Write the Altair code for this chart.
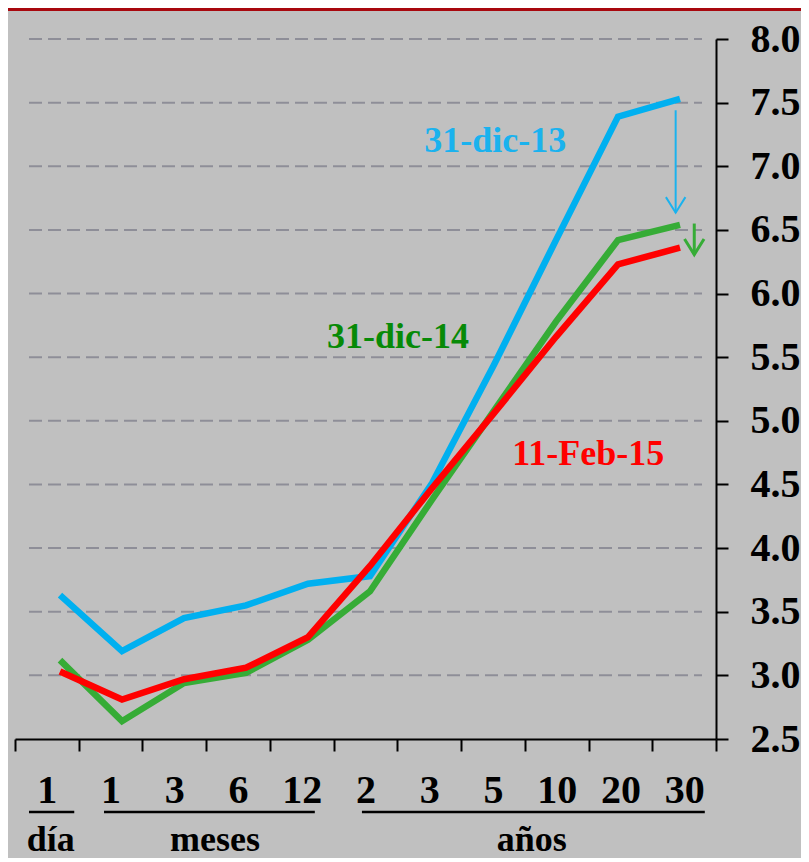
import altair as alt
import pandas as pd

# ---------------- data ----------------
categories = ["1d", "1m", "3m", "6m", "12m", "2y", "3y", "5y", "10y", "20y", "30y"]
tick_labels = ["1", "1", "3", "6", "12", "2", "3", "5", "10", "20", "30"]
series_names = ["31-dic-13", "31-dic-14", "11-Feb-15"]
dic13 = [3.63, 3.19, 3.45, 3.55, 3.72, 3.78, 4.51, 5.44, 6.42, 7.39, 7.53]
dic14 = [3.12, 2.64, 2.94, 3.02, 3.28, 3.66, 4.38, 5.08, 5.78, 6.42, 6.54]
feb15 = [3.03, 2.81, 2.97, 3.06, 3.30, 3.86, 4.47, 5.06, 5.66, 6.23, 6.36]
line_colors = ["#00B0F0", "#36AC36", "#FF0000"]

label_text = ["31-dic-13", "31-dic-14", "11-Feb-15"]
label_colors = ["#1AB2EE", "#078A07", "#FF0000"]
label_x = [7.02, 5.45, 8.52]
label_y = [7.115, 5.575, 4.656]

y_ticks = [2.5, 3.0, 3.5, 4.0, 4.5, 5.0, 5.5, 6.0, 6.5, 7.0, 7.5, 8.0]
grid_values = [3.0, 3.5, 4.0, 4.5, 5.0, 5.5, 6.0, 6.5, 7.0, 7.5, 8.0]

groups = ["día", "meses", "años"]
group_center = [-0.15, 2.5, 7.61]
group_start = [-0.50, 0.71, 4.87]
group_end = [0.23, 4.11, 10.40]

arrow_x = [9.93, 10.23]
arrow_top = [7.44, 6.55]
arrow_tip = [6.635, 6.306]
arrow_colors = ["#1AB2EE", "#36AC36"]
arrow_widths = [2, 3]

FONT = "Liberation Serif"
BG = "#C0C0C0"
W, H = 701, 700

# ---------------- scales ----------------
X0, X1 = -0.7258, 10.5806
n = len(categories)
step = (X1 - X0) / n
band_edges = [round(X0 + k * step, 5) for k in range(n + 1)]
label_js = "[" + ",".join("'%s'" % t for t in tick_labels + [""]) + "]"
label_expr = "%s[round((datum.value - (%f)) / %f)]" % (label_js, X0, step)

xq = alt.Scale(domain=[X0, X1], nice=False, zero=False)
yq = alt.Scale(domain=[2.5, 8.0], nice=False, zero=False)

x_axis = alt.Axis(orient="bottom", values=band_edges, labelExpr=label_expr,
                  labelOffset=W / n / 2, tickSize=12, tickWidth=2, tickColor="black",
                  domainColor="black", domainWidth=2, labelAngle=0,
                  labelFont=FONT, labelFontSize=40, labelFontWeight="bold",
                  labelColor="black", labelPadding=19, grid=False,
                  labelOverlap=False, labelFlush=False, labelBound=False, title=None)
y_axis = alt.Axis(orient="right", values=y_ticks, format=".1f", grid=False,
                  tickSize=12, tickWidth=2, tickColor="black",
                  domainColor="black", domainWidth=2,
                  labelFont=FONT, labelFontSize=40, labelFontWeight="bold",
                  labelColor="black", labelPadding=22, labelFlush=False,
                  labelOverlap=False, title=None)

# ---------------- tables ----------------
idx = list(range(n))
series_frames = [
    pd.DataFrame({"i": idx, "v": vals, "s": name})
    for vals, name in zip([dic13, dic14, feb15], series_names)
]
grid_df = pd.DataFrame({"g": grid_values})
lab_df = pd.DataFrame({"t": label_text, "c": label_colors, "x": label_x, "y": label_y})
grp_df = pd.DataFrame({"t": groups, "xc": group_center, "x0": group_start, "x1": group_end})
arr_df = pd.DataFrame({"x": arrow_x, "y0": arrow_top, "y1": arrow_tip,
                       "c": arrow_colors, "w": arrow_widths})

# top red bar
bar = alt.Chart(pd.DataFrame({"a": [0]})).mark_rect(color="#A8080E").encode(
    x=alt.value(-7), x2=alt.value(786), y=alt.value(-31), y2=alt.value(-28)
)

grid = alt.Chart(grid_df).mark_rule(color="#8E8E98", strokeWidth=2, strokeDash=[13, 6]).encode(
    y=alt.Y("g:Q", scale=yq, axis=y_axis),
    x=alt.value(14), x2=alt.value(687),
)

lines = []
for df, col in zip(series_frames, line_colors):
    lines.append(
        alt.Chart(df).mark_line(color=col, strokeWidth=6.5).encode(
            x=alt.X("i:Q", scale=xq, axis=x_axis),
            y=alt.Y("v:Q", scale=yq, axis=y_axis),
        )
    )

labels = alt.Chart(lab_df).mark_text(font=FONT, fontSize=36, fontWeight="bold",
                                     align="center", baseline="alphabetic").encode(
    x=alt.X("x:Q", scale=xq, axis=x_axis),
    y=alt.Y("y:Q", scale=yq, axis=y_axis),
    text="t:N",
    color=alt.Color("c:N", scale=None),
)

shafts = alt.Chart(arr_df).mark_rule().encode(
    x=alt.X("x:Q", scale=xq, axis=x_axis),
    y=alt.Y("y0:Q", scale=yq, axis=y_axis),
    y2="y1:Q",
    color=alt.Color("c:N", scale=None),
    strokeWidth=alt.StrokeWidth("w:Q", scale=None),
)
heads = alt.Chart(arr_df).mark_point(shape="M-1,-1.6 L0,0 L1,-1.6", filled=False,
                                     size=380, opacity=1).encode(
    x=alt.X("x:Q", scale=xq, axis=x_axis),
    y=alt.Y("y1:Q", scale=yq, axis=y_axis),
    color=alt.Color("c:N", scale=None),
    strokeWidth=alt.StrokeWidth("w:Q", scale=None),
)

underlines = alt.Chart(grp_df).mark_rule(color="black", strokeWidth=2.5).encode(
    x=alt.X("x0:Q", scale=xq, axis=x_axis), x2="x1:Q", y=alt.value(773)
)
group_text = alt.Chart(grp_df).mark_text(font=FONT, fontSize=36, fontWeight="bold",
                                         color="black", align="center",
                                         baseline="alphabetic").encode(
    x=alt.X("xc:Q", scale=xq, axis=x_axis), y=alt.value(812), text="t:N"
)

chart = alt.layer(
    bar, grid, *lines, labels, shafts, heads, underlines, group_text
).properties(
    width=W, height=H, background=BG,
    padding={"left": 0, "top": 0, "right": 0, "bottom": 0},
).configure_view(stroke=None)

chart.save("out.html", embed_options={"renderer": "svg", "actions": False})
